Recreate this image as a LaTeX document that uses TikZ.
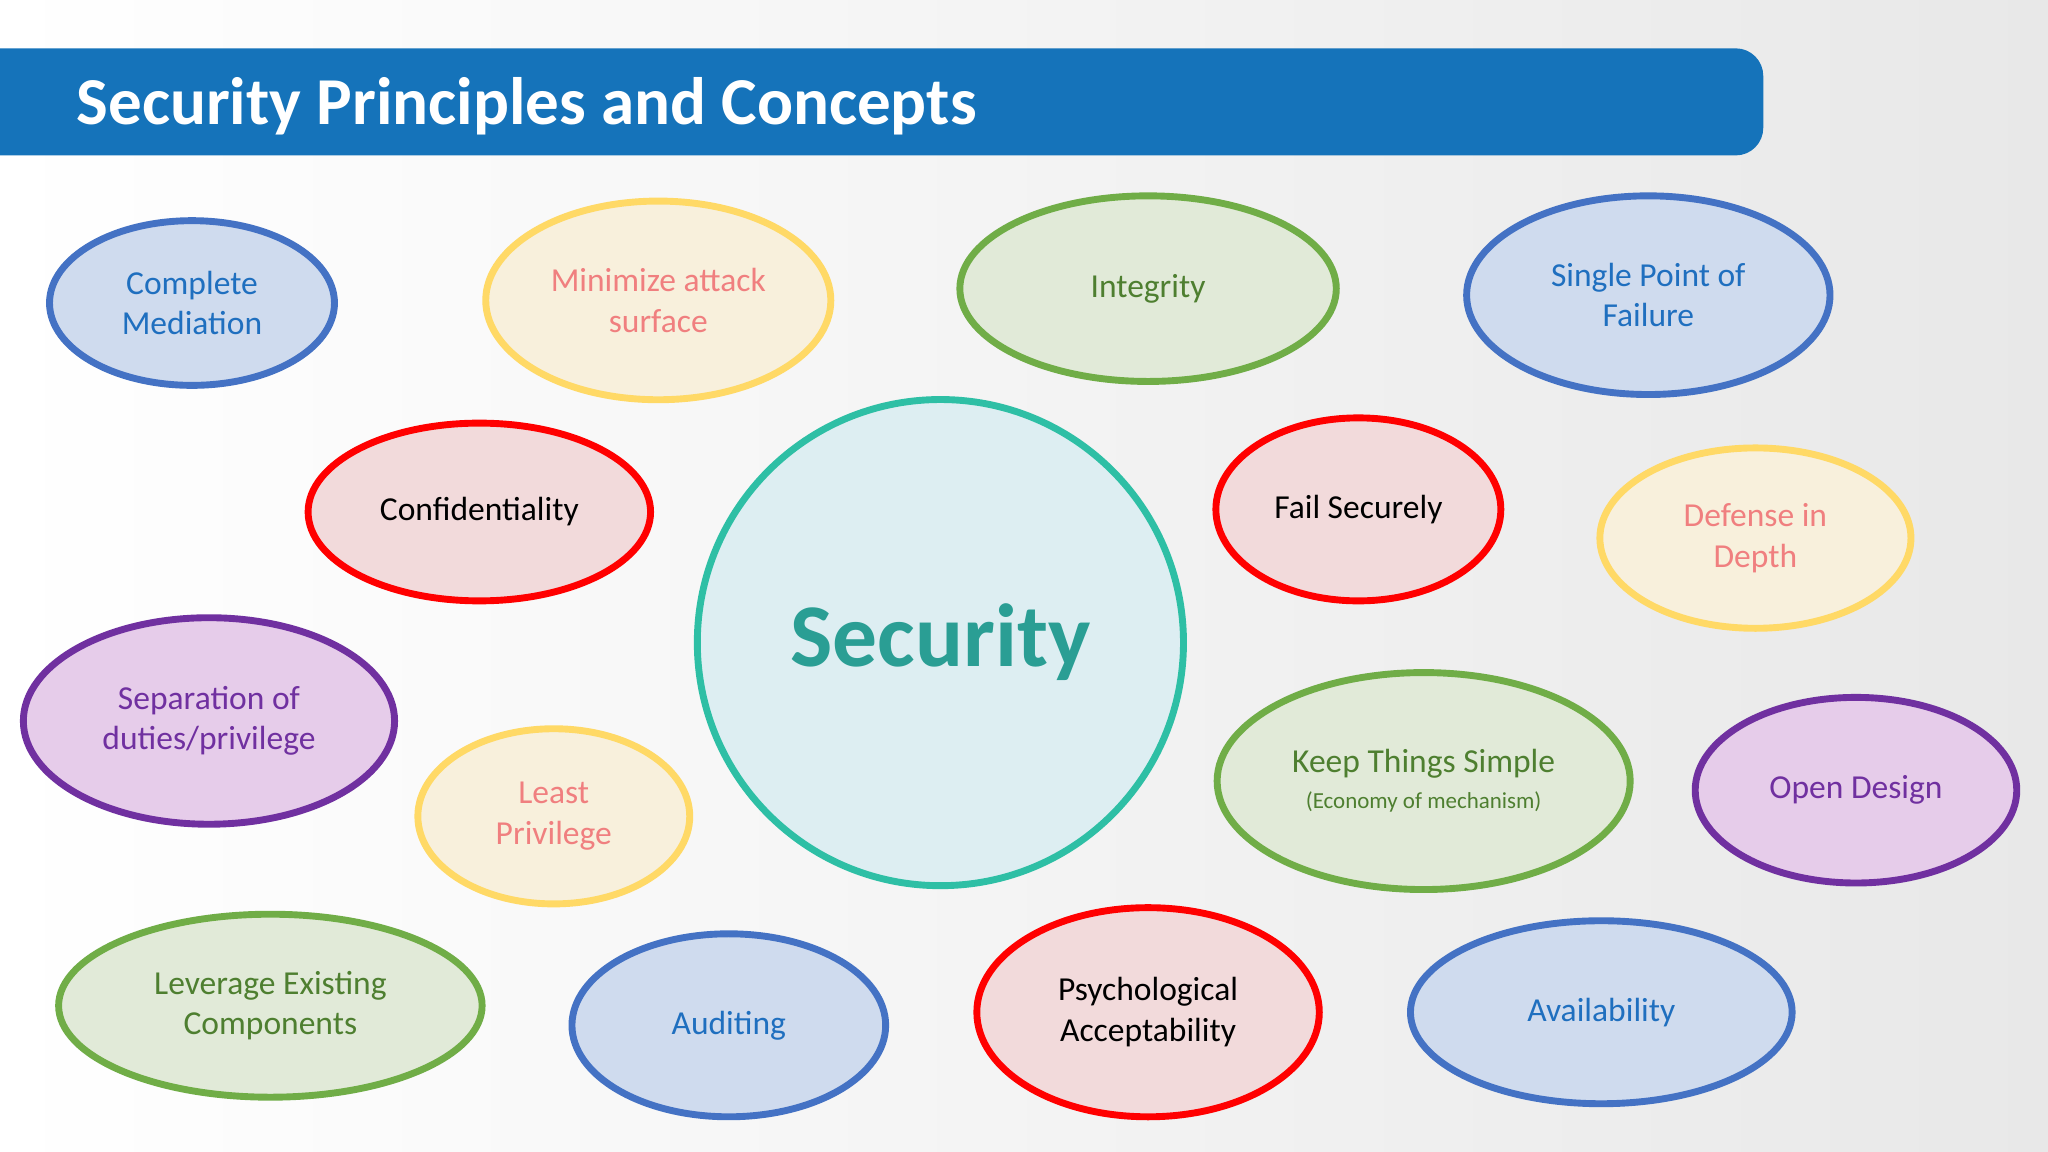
\documentclass[tikz,border=0pt]{standalone}
\usepackage{fontspec}
\setmainfont{Carlito}
\usetikzlibrary{shapes.geometric}
\definecolor{cblue}{HTML}{4472C4}\definecolor{fblue}{HTML}{CFDBEE}\definecolor{tblue}{HTML}{1F6FBF}
\definecolor{cyel}{HTML}{FFD966}\definecolor{fyel}{HTML}{F8F0DC}\definecolor{tyel}{HTML}{F07F7F}
\definecolor{cgrn}{HTML}{70AD47}\definecolor{fgrn}{HTML}{E1EAD8}\definecolor{tgrn}{HTML}{4E7F30}
\definecolor{cred}{HTML}{FF0000}\definecolor{fred}{HTML}{F2DADB}
\definecolor{cpur}{HTML}{7030A0}\definecolor{fpur}{HTML}{E6CCEA}
\definecolor{cteal}{HTML}{2EBFA5}\definecolor{fteal}{HTML}{DDEEF2}\definecolor{tteal}{HTML}{2A9E94}
\definecolor{bar}{HTML}{1573BA}
\tikzset{
 bub/.style={ellipse,inner sep=0pt,line width=1.5pt,align=center,font=\fontsize{7.3}{8.8}\selectfont},
 blueb/.style={bub,draw=cblue,fill=fblue,text=tblue},
 yelb/.style={bub,draw=cyel,fill=fyel,text=tyel},
 grnb/.style={bub,draw=cgrn,fill=fgrn,text=tgrn},
 redb/.style={bub,draw=cred,fill=fred,text=black},
 purb/.style={bub,draw=cpur,fill=fpur,text=cpur},
}
\begin{document}
\begin{tikzpicture}[x=0.01cm,y=-0.01cm]
\shade[left color=white,right color=black!9] (0,0) rectangle (1568,882);
\useasboundingbox (0,0) rectangle (1568,882);
\fill[bar,rounded corners=6pt] (-20,37) rectangle (1350,119);
\node[anchor=west,inner sep=0pt,text=white,font=\bfseries\fontsize{14.6}{16}\selectfont] (title) at (58,81) {Security Principles and Concepts};
\def\E#1#2#3#4#5#6#7{\node[#1,minimum width=#4*0.02cm,minimum height=#5*0.02cm] (#6) at (#2,#3) {#7};}
\E{blueb}{147}{232}{109}{63}{cm}{Complete\\Mediation}
\E{yelb}{504}{230}{132}{76}{mas}{Minimize attack\\surface}
\E{grnb}{879}{221}{144}{71}{integ}{Integrity}
\E{blueb}{1262}{226}{139}{76}{spof}{Single Point of\\Failure}
\E{redb}{367}{392}{131}{68}{conf}{Confidentiality}
\node[circle,line width=1.5pt,draw=cteal,fill=fteal,text=tteal,minimum size=3.72cm,font=\bfseries\fontsize{19.5}{21}\selectfont] (sec) at (720,492) {\raisebox{-0.3ex}{Security}};
\E{redb}{1040}{390}{109}{70}{fail}{Fail Securely}
\E{yelb}{1344}{412}{119}{69}{did}{Defense in\\Depth}
\E{purb}{160}{552}{142}{79}{sep}{Separation of\\duties/privilege}
\E{yelb}{424}{625}{104}{67}{lp}{Least\\Privilege}
\E{grnb}{1090}{598}{158}{83}{kiss}{Keep Things Simple\\[-1pt]{\fontsize{5}{6}\selectfont(Economy of mechanism)}}
\E{purb}{1421}{605}{123}{71}{od}{Open Design}
\E{grnb}{207}{770}{162}{70}{lev}{Leverage Existing\\Components}
\E{blueb}{558}{785}{120}{70}{aud}{Auditing}
\E{redb}{879}{775}{131}{80}{psy}{Psychological\\Acceptability}
\E{blueb}{1226}{775}{146}{70}{avail}{Availability}
\end{tikzpicture}
\end{document}
